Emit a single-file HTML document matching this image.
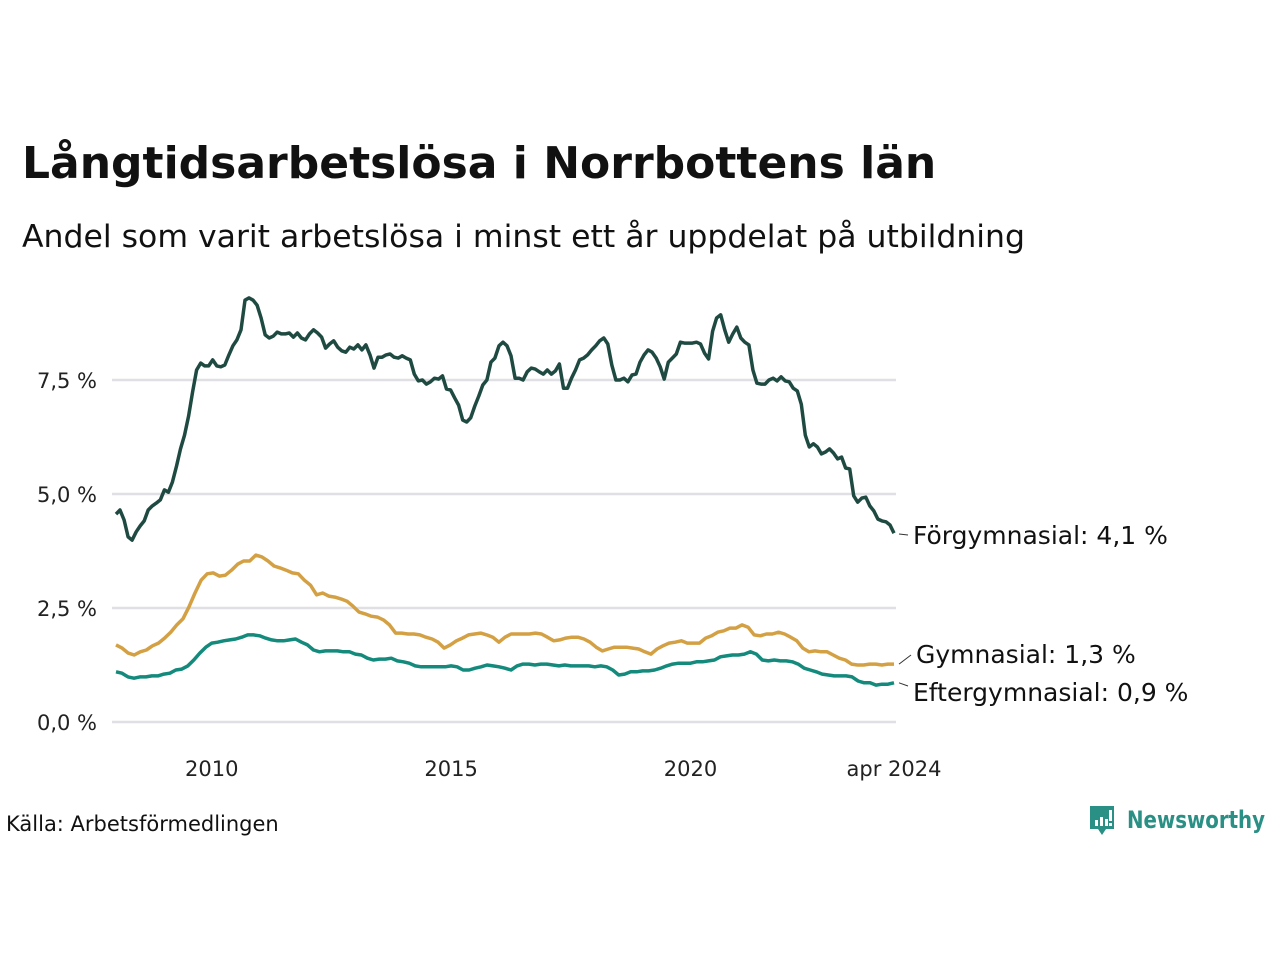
<!DOCTYPE html>
<html><head><meta charset="utf-8">
<style>
body{margin:0;background:#fff;width:1280px;height:960px;overflow:hidden;font-family:"DejaVu Sans","Liberation Sans",sans-serif;}
svg{display:block}
</style></head>
<body>
<svg id="chart" width="1280" height="960" viewBox="0 0 1280 960">
<text x="22" y="178" font-size="44" font-weight="bold" fill="#111">Långtidsarbetslösa i Norrbottens län</text>
<text x="22" y="247" font-size="31" fill="#111" textLength="1003" lengthAdjust="spacingAndGlyphs">Andel som varit arbetslösa i minst ett år uppdelat på utbildning</text>
<g id="grid"></g>
<g id="yticks"></g>
<g id="xticks"></g>
<g id="lines"></g>
<g id="labels"></g>
<text x="6" y="831" font-size="21" fill="#111">Källa: Arbetsförmedlingen</text>
<g>
<path d="M1090 806 h24 v23 h-8 l-4 6 l-4 -6 h-8 z" fill="#2a8f84"/>
<rect x="1095" y="820" width="3" height="6" fill="#fff"/><rect x="1100" y="817" width="3" height="9" fill="#fff"/><rect x="1105" y="819" width="3" height="7" fill="#fff"/><rect x="1109" y="810" width="3" height="11" fill="#fff"/><rect x="1109" y="823" width="3" height="3" fill="#fff"/>
<text x="1127" y="828" font-size="24" font-weight="bold" fill="#2a8f84" textLength="138" lengthAdjust="spacingAndGlyphs">Newsworthy</text>
</g>
</svg>
<script>
const yTicks=[0,2.5,5,7.5];
const yTickLabels=["0,0 %","2,5 %","5,0 %","7,5 %"];
const xTickYears=[2010,2015,2020,2024.25];
const xTickLabels=["2010","2015","2020","apr 2024"];
const startYear=2008.0, endYear=2024.25;
const seriesNames=["Förgymnasial","Gymnasial","Eftergymnasial"];
const endLabels=["Förgymnasial: 4,1 %","Gymnasial: 1,3 %","Eftergymnasial: 0,9 %"];
const forgym=[4.56,4.65,4.43,4.06,3.99,4.17,4.30,4.41,4.65,4.74,4.80,4.87,5.09,5.04,5.26,5.61,5.99,6.29,6.71,7.24,7.72,7.87,7.81,7.81,7.94,7.81,7.79,7.83,8.05,8.25,8.38,8.60,9.25,9.30,9.25,9.14,8.86,8.49,8.42,8.46,8.55,8.51,8.51,8.53,8.44,8.53,8.42,8.38,8.51,8.60,8.53,8.44,8.20,8.29,8.36,8.22,8.14,8.11,8.22,8.18,8.27,8.16,8.27,8.05,7.76,8.00,8.00,8.05,8.07,8.00,7.98,8.03,7.98,7.94,7.63,7.48,7.50,7.41,7.46,7.54,7.52,7.59,7.30,7.28,7.11,6.95,6.62,6.58,6.67,6.93,7.15,7.39,7.50,7.89,7.98,8.25,8.33,8.25,8.03,7.54,7.54,7.50,7.68,7.76,7.74,7.68,7.63,7.72,7.63,7.70,7.85,7.32,7.32,7.54,7.72,7.94,7.98,8.05,8.16,8.25,8.36,8.42,8.29,7.83,7.50,7.50,7.54,7.46,7.61,7.63,7.89,8.05,8.16,8.11,7.98,7.79,7.52,7.89,7.98,8.07,8.33,8.31,8.31,8.31,8.33,8.29,8.09,7.96,8.57,8.86,8.93,8.60,8.33,8.51,8.66,8.42,8.33,8.27,7.72,7.43,7.41,7.41,7.50,7.54,7.48,7.57,7.48,7.46,7.32,7.26,6.97,6.29,6.03,6.10,6.03,5.88,5.92,5.99,5.90,5.77,5.81,5.57,5.55,4.96,4.82,4.91,4.93,4.74,4.63,4.45,4.41,4.39,4.32,4.14];
const gym=[1.69,1.62,1.51,1.47,1.54,1.58,1.67,1.73,1.84,1.97,2.13,2.26,2.52,2.83,3.11,3.25,3.27,3.20,3.22,3.33,3.46,3.53,3.53,3.66,3.62,3.53,3.42,3.38,3.33,3.27,3.25,3.11,3.00,2.79,2.83,2.76,2.74,2.70,2.65,2.54,2.41,2.37,2.32,2.30,2.24,2.13,1.95,1.95,1.93,1.93,1.91,1.86,1.82,1.75,1.62,1.69,1.78,1.84,1.91,1.93,1.95,1.91,1.86,1.75,1.86,1.93,1.93,1.93,1.93,1.95,1.93,1.86,1.78,1.80,1.84,1.86,1.86,1.82,1.75,1.64,1.56,1.60,1.64,1.64,1.64,1.62,1.60,1.54,1.49,1.60,1.67,1.73,1.75,1.78,1.73,1.73,1.73,1.84,1.89,1.97,2.00,2.06,2.06,2.13,2.08,1.91,1.89,1.93,1.93,1.97,1.93,1.86,1.78,1.62,1.54,1.56,1.54,1.54,1.47,1.40,1.36,1.27,1.25,1.25,1.27,1.27,1.25,1.27,1.27];
const eftergym=[1.10,1.07,0.99,0.96,0.99,0.99,1.01,1.01,1.05,1.07,1.14,1.16,1.23,1.36,1.51,1.64,1.73,1.75,1.78,1.80,1.82,1.86,1.91,1.91,1.89,1.84,1.80,1.78,1.78,1.80,1.82,1.75,1.69,1.58,1.54,1.56,1.56,1.56,1.54,1.54,1.49,1.47,1.40,1.36,1.38,1.38,1.40,1.34,1.32,1.29,1.23,1.21,1.21,1.21,1.21,1.21,1.23,1.21,1.14,1.14,1.18,1.21,1.25,1.23,1.21,1.18,1.14,1.23,1.27,1.27,1.25,1.27,1.27,1.25,1.23,1.25,1.23,1.23,1.23,1.23,1.21,1.23,1.21,1.14,1.03,1.05,1.10,1.10,1.12,1.12,1.14,1.18,1.23,1.27,1.29,1.29,1.29,1.32,1.32,1.34,1.36,1.43,1.45,1.47,1.47,1.49,1.54,1.49,1.36,1.34,1.36,1.34,1.34,1.32,1.27,1.18,1.14,1.10,1.05,1.03,1.01,1.01,1.01,0.99,0.90,0.86,0.86,0.81,0.83,0.83,0.86];
const seriesColors=["#1f4a42","#d4a044","#138a7c"];

const X0=116,X1=894,Y0=722,PXPER=45.6;
function xs(year){return X0+(year-startYear)/(endYear-startYear)*(X1-X0);}
function ys(v){return Y0-v*PXPER;}
const NS="http://www.w3.org/2000/svg";
function mk(tag,attrs,parent){const e=document.createElementNS(NS,tag);for(const k in attrs)e.setAttribute(k,attrs[k]);parent.appendChild(e);return e;}
const grid=document.getElementById('grid'),yt=document.getElementById('yticks'),xt=document.getElementById('xticks'),lines=document.getElementById('lines'),labels=document.getElementById('labels');
yTicks.forEach((v,i)=>{
  const l=mk('line',{x1:112,x2:896,y1:ys(v),y2:ys(v),stroke:"#e0e0e4","stroke-width":2.5},grid);
  
  
  const t=mk('text',{x:97,y:ys(v)+8,"text-anchor":"end","font-size":21,fill:"#222"},yt);
  t.textContent=yTickLabels[i];
  
  
});
xTickYears.forEach((yr,i)=>{
  const t=mk('text',{x:xs(yr),y:776,"text-anchor":"middle","font-size":21,fill:"#222"},xt);
  t.textContent=xTickLabels[i];
  
  
});
const allSeries=[forgym,gym,eftergym];
allSeries.forEach((s,si)=>{
  const n=s.length;
  const pts=s.map((v,i)=>[xs(startYear+i/(n-1)*(endYear-startYear)),ys(v)]);
  const p=mk('polyline',{points:pts.map(q=>q[0].toFixed(1)+","+q[1].toFixed(1)).join(" "),fill:"none",stroke:seriesColors[si],"stroke-width":3.5,"stroke-linejoin":"round"},lines);
  
  
});
const labelY=[544,663,701];
const labelX=[913,916,913];
const connY=[535,655,686];
endLabels.forEach((txt,i)=>{
  const ly=ys(allSeries[i][allSeries[i].length-1]);
  const c=mk('line',{x1:899,y1:Math.max(ly,534),x2:labelX[i]-5,y2:connY[i],stroke:"#333","stroke-width":1},labels);
  
  
  const t=mk('text',{x:labelX[i],y:labelY[i],"font-size":25,fill:"#111"},labels);
  t.textContent=txt;
  
  
});
</script>
</body></html>
